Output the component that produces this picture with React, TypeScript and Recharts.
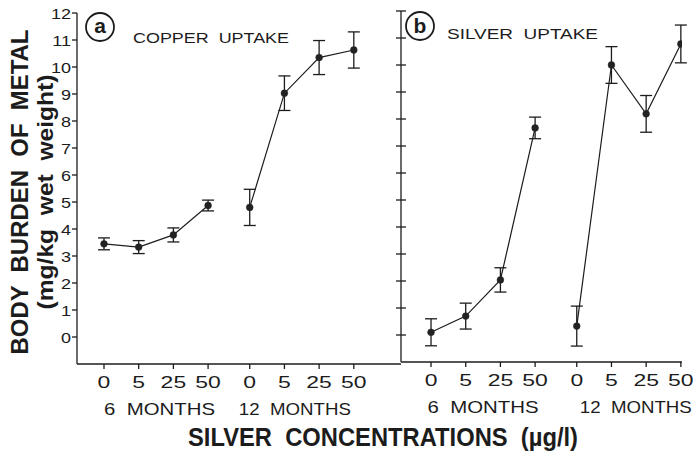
import React from 'react';
import { LineChart, Line, XAxis, YAxis, ErrorBar } from 'recharts';

// ---- data ----
const concentrationLabels = ['0', '5', '25', '50', '0', '5', '25', '50'];
const tickPositions = [0, 1, 2, 3, 4.2, 5.2, 6.2, 7.2];
const groupLabels = ['6  MONTHS', '12  MONTHS'];
const yTicks = [0, 1, 2, 3, 4, 5, 6, 7, 8, 9, 10, 11, 12];

const copper6Mean = [3.45, 3.33, 3.78, 4.87];
const copper6Err = [0.22, 0.24, 0.26, 0.2];
const copper12Mean = [4.8, 9.03, 10.35, 10.63];
const copper12Err = [0.67, 0.64, 0.63, 0.67];

const silver6Mean = [0.1, 0.7, 2.04, 7.67];
const silver6Err = [0.5, 0.48, 0.45, 0.4];
const silver12Mean = [0.33, 10.0, 8.19, 10.78];
const silver12Err = [0.74, 0.68, 0.68, 0.7];

const INK = '#1c1c1c';
const FONT = '"Liberation Sans", Arial, Helvetica, sans-serif';

function series(pos: number[], mean: number[], err: number[]) {
  return mean.map((y, i) => ({ x: pos[i], y, err: err[i] }));
}

const pos6 = tickPositions.slice(0, 4);
const pos12 = tickPositions.slice(4);

const XTick = (props: any) => {
  const { x, y, payload, index } = props;
  let i = tickPositions.indexOf(payload.value);
  if (i < 0) i = index;
  return (
    <g transform={`translate(${x},${y})`}>
      <text transform="scale(1.35,1)" textAnchor="middle" y={17} fontSize={17} fill={INK} fontFamily={FONT}>
        {concentrationLabels[i]}
      </text>
    </g>
  );
};

const GroupTick = (props: any) => {
  const { x, y, index } = props;
  return (
    <g transform={`translate(${x},${y})`}>
      <text
        textAnchor="middle"
        y={25}
        fontSize={17}
        fill={INK}
        fontFamily={FONT}
        textLength={index === 0 ? 111 : 112}
        lengthAdjust="spacingAndGlyphs"
        style={{ whiteSpace: 'pre' }}
      >
        {groupLabels[index]}
      </text>
    </g>
  );
};

const YTick = (props: any) => {
  const { x, y, payload } = props;
  return (
    <g transform={`translate(${x},${y})`}>
      <text transform="scale(1.2,1)" textAnchor="end" dy={5.5} fontSize={15} fill={INK} fontFamily={FONT}>
        {payload.value}
      </text>
    </g>
  );
};

const CrossTick = (props: any) => {
  const { x, y } = props;
  return <line x1={x - 5} x2={x + 5} y1={y} y2={y} stroke={INK} strokeWidth={1.3} />;
};

type PanelProps = {
  left: number;
  width: number;
  top: number;
  bottom: number;
  yAxisWidth: number;
  marginRight: number;
  xDomain: [number, number];
  groupTicks: number[];
  labelled: boolean;
  data6: { x: number; y: number; err: number }[];
  data12: { x: number; y: number; err: number }[];
};

const H = 452;
const XH1 = 26;
const XH2 = 26;

function Panel(p: PanelProps) {
  const lineProps = {
    type: 'linear' as const,
    dataKey: 'y',
    stroke: INK,
    strokeWidth: 1.2,
    dot: { r: 3.4, fill: '#222', stroke: '#222', strokeWidth: 0.5 },
    activeDot: false as const,
    isAnimationActive: false,
  };
  return (
    <div style={{ position: 'absolute', left: p.left, top: 0 }}>
      <LineChart
        width={p.width}
        height={H}
        margin={{ top: p.top, right: p.marginRight, left: 0, bottom: H - p.bottom - XH1 - XH2 }}
      >
        <XAxis
          type="number"
          dataKey="x"
          domain={p.xDomain}
          ticks={tickPositions}
          interval={0}
          height={XH1}
          tickSize={5}
          tickMargin={2}
          axisLine={{ stroke: INK, strokeWidth: 1.3 }}
          tickLine={{ stroke: INK, strokeWidth: 1.3 }}
          tick={<XTick />}
          allowDataOverflow
        />
        <XAxis
          xAxisId="grp"
          type="number"
          dataKey="x"
          domain={p.xDomain}
          ticks={p.groupTicks}
          interval={0}
          height={XH2}
          tickSize={0}
          tickMargin={0}
          axisLine={false}
          tickLine={false}
          tick={<GroupTick />}
          allowDataOverflow
        />
        {p.labelled ? (
          <YAxis
            type="number"
            domain={[-1, 12]}
            ticks={yTicks}
            interval={0}
            width={p.yAxisWidth}
            tickSize={5}
            tickMargin={1}
            axisLine={{ stroke: INK, strokeWidth: 1.3 }}
            tickLine={{ stroke: INK, strokeWidth: 1.3 }}
            tick={<YTick />}
            allowDataOverflow
          />
        ) : (
          <YAxis
            type="number"
            domain={[-1, 12]}
            ticks={yTicks}
            interval={0}
            width={p.yAxisWidth}
            tickSize={0}
            tickMargin={0}
            axisLine={{ stroke: INK, strokeWidth: 1.3 }}
            tickLine={false}
            tick={<CrossTick />}
            allowDataOverflow
          />
        )}
        <Line {...lineProps} data={p.data6}>
          <ErrorBar dataKey="err" direction="y" width={6} stroke={INK} strokeWidth={1.3} isAnimationActive={false} />
        </Line>
        <Line {...lineProps} data={p.data12}>
          <ErrorBar dataKey="err" direction="y" width={6} stroke={INK} strokeWidth={1.3} isAnimationActive={false} />
        </Line>
      </LineChart>
    </div>
  );
}

export default function App() {
  return (
    <div style={{ position: 'absolute', left: 0, top: 0, width: 695, height: 452, background: '#fff', overflow: 'hidden' }}>
      <Panel
        left={0}
        width={402}
        top={13}
        bottom={364}
        yAxisWidth={77}
        marginRight={1}
        xDomain={[-0.778, 8.56]}
        groupTicks={[1.6, 5.5]}
        labelled
        data6={series(pos6, copper6Mean, copper6Err)}
        data12={series(pos12, copper12Mean, copper12Err)}
      />
      <Panel
        left={340}
        width={355}
        top={11}
        bottom={362}
        yAxisWidth={61}
        marginRight={13}
        xDomain={[-0.865, 7.233]}
        groupTicks={[1.5, 5.9]}
        labelled={false}
        data6={series(pos6, silver6Mean, silver6Err)}
        data12={series(pos12, silver12Mean, silver12Err)}
      />
      <svg width={695} height={452} style={{ position: 'absolute', left: 0, top: 0, pointerEvents: 'none' }}>
        <g fontFamily={FONT} fill={INK}>
          <text
            transform="translate(28,192) rotate(-90)"
            textAnchor="middle"
            fontSize={24}
            fontWeight="bold"
            textLength={325}
            lengthAdjust="spacingAndGlyphs"
            style={{ whiteSpace: 'pre' }}
          >
            {'BODY  BURDEN  OF  METAL'}
          </text>
          <text
            transform="translate(53,192) rotate(-90)"
            textAnchor="middle"
            fontSize={22}
            fontWeight="bold"
            textLength={235}
            lengthAdjust="spacingAndGlyphs"
            style={{ whiteSpace: 'pre' }}
          >
            {'(mg/kg  wet  weight)'}
          </text>
          <text
            x={383}
            y={446}
            textAnchor="middle"
            fontSize={25}
            fontWeight="bold"
            textLength={390}
            lengthAdjust="spacingAndGlyphs"
            style={{ whiteSpace: 'pre' }}
          >
            {'SILVER  CONCENTRATIONS  (µg/l)'}
          </text>
          <text x={133} y={43} fontSize={15} textLength={156} lengthAdjust="spacingAndGlyphs" style={{ whiteSpace: 'pre' }}>
            {'COPPER  UPTAKE'}
          </text>
          <text x={447} y={38.5} fontSize={15} textLength={151} lengthAdjust="spacingAndGlyphs" style={{ whiteSpace: 'pre' }}>
            {'SILVER  UPTAKE'}
          </text>
          <circle cx={100} cy={27} r={14} fill="none" stroke={INK} strokeWidth={1.8} />
          <text x={100} y={33} textAnchor="middle" fontSize={21} fontWeight="bold">a</text>
          <circle cx={420} cy={26} r={14} fill="none" stroke={INK} strokeWidth={1.8} />
          <text x={420} y={33} textAnchor="middle" fontSize={21} fontWeight="bold">b</text>
        </g>
      </svg>
    </div>
  );
}
